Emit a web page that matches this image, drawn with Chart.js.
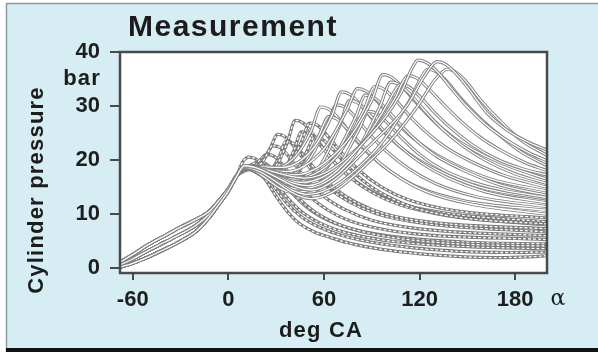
<!DOCTYPE html>
<html>
<head>
<meta charset="utf-8">
<script src="https://cdn.jsdelivr.net/npm/chart.js@4.4.0/dist/chart.umd.min.js"></script>
<style>
  html, body { margin: 0; padding: 0; background: #fff; }
  #wrap { width: 598px; height: 352px; }
</style>
</head>
<body>
<div id="wrap"><canvas id="chart" width="598" height="352"></canvas></div>
<script>
// shared compression stroke, three slightly different traces (deg CA / bar)
const compressionAngle = [-68, -60, -50, -40, -30, -20, -12, -6, 0, 5];
const compressionHigh = [1.0, 2.4, 4.3, 5.9, 7.5, 9.0, 10.4, 12.4, 14.6, 17.0];
const compressionMid  = [0.5, 1.6, 3.2, 4.7, 6.2, 7.9, 9.9, 12.0, 14.4, 16.9];
const compressionLow  = [0.1, 0.8, 2.0, 3.4, 4.9, 6.8, 9.3, 11.7, 14.2, 16.8];

// combustion part of each measured cycle, lowest peaks first
const cycleAngles = [
  [10, 15, 20, 25, 30, 37, 44, 54, 64, 75, 86, 106, 127, 148, 169, 189, 200],
  [10, 17, 22, 28, 36, 46, 58, 72, 90, 115, 145, 175, 200],
  [9, 13, 18, 25, 34, 45, 58, 75, 105, 150, 200],
  [10, 14, 19, 24, 31, 40, 51, 64, 81, 111, 150, 200],
  [10, 16, 22, 27, 34, 43, 54, 67, 84, 110, 145, 200],
  [10, 16, 20, 24, 29, 36, 45, 56, 69, 86, 116, 200],
  [10, 18, 23, 28, 33, 40, 49, 60, 73, 90, 120, 200],
  [10, 20, 26, 31, 36, 43, 52, 63, 76, 93, 123, 200],
  [10, 20, 28, 32, 36, 41, 48, 57, 68, 81, 98, 128, 200],
  [10, 22, 30, 37, 42, 47, 54, 63, 74, 87, 104, 134, 200],
  [10, 24, 34, 41, 46, 51, 58, 67, 78, 91, 108, 138, 200],
  [10, 26, 38, 46, 51, 56, 63, 72, 83, 96, 113, 142, 200],
  [10, 28, 40, 49, 54, 59, 66, 75, 86, 100, 118, 148, 200],
  [10, 28, 42, 52, 58, 63, 70, 79, 90, 103, 120, 148, 200],
  [10, 30, 46, 57, 63, 68, 75, 84, 95, 108, 125, 152, 200],
  [10, 32, 50, 62, 68, 73, 80, 89, 100, 113, 130, 155, 200],
  [10, 34, 53, 65, 71, 76, 83, 92, 103, 116, 133, 157, 200],
  [10, 34, 55, 70, 76, 81, 88, 97, 108, 121, 138, 162, 200],
  [10, 36, 60, 75, 81, 86, 93, 102, 113, 126, 143, 165, 200],
  [10, 38, 62, 80, 86, 91, 98, 107, 118, 131, 148, 170, 200],
  [10, 40, 64, 82, 88, 93, 100, 109, 120, 133, 150, 172, 200],
  [10, 40, 68, 85, 92, 97, 104, 113, 124, 137, 153, 174, 200],
  [10, 42, 72, 90, 97, 102, 109, 118, 129, 142, 158, 178, 200],
  [10, 44, 76, 95, 102, 107, 114, 123, 134, 147, 162, 180, 200],
  [10, 46, 80, 100, 104, 108, 113, 120, 129, 140, 153, 168, 184, 200],
  [10, 48, 84, 105, 109, 113, 118, 125, 134, 145, 158, 172, 186, 200],
  [10, 50, 90, 113, 121, 125, 130, 137, 146, 157, 170, 184, 200],
  [10, 52, 96, 118, 129, 134, 137, 142, 149, 158, 170, 184, 200],
  [10, 50, 88, 108, 115, 119, 124, 131, 140, 150, 162, 175, 188, 200],
  [10, 52, 92, 112, 122, 127, 131, 137, 145, 150, 162, 175, 188, 200]
];
const cyclePressures = [
  [17.9, 18.3, 17.4, 15.6, 13.2, 10.4, 8.3, 6.6, 5.6, 4.6, 3.9, 3.0, 2.4, 2.0, 1.85, 2.0, 2.2],
  [18.0, 18.2, 17.6, 15.4, 12.2, 9.4, 7.4, 5.9, 4.7, 3.7, 3.0, 2.8, 2.9],
  [19.6, 20.5, 20.0, 17.6, 14.0, 10.6, 8.2, 6.4, 4.8, 3.9, 3.5],
  [18.4, 19.0, 19.6, 19.2, 17.0, 13.8, 10.8, 8.6, 6.9, 5.5, 4.7, 4.4],
  [18.3, 18.6, 19.0, 18.5, 16.2, 13.2, 10.4, 8.3, 6.7, 5.3, 4.4, 4.0],
  [18.4, 18.8, 20.0, 21.0, 20.6, 18.4, 15.0, 12.0, 9.6, 7.8, 6.3, 5.2],
  [18.5, 18.9, 20.5, 22.6, 22.2, 19.8, 16.4, 13.2, 10.8, 8.8, 7.2, 5.9],
  [18.6, 19.2, 22.0, 24.7, 24.2, 21.8, 18.2, 14.8, 12.2, 10.0, 8.2, 6.6],
  [18.4, 17.8, 18.6, 20.6, 23.4, 23.0, 20.6, 17.4, 14.4, 12.0, 10.0, 8.4, 7.2],
  [18.7, 18.2, 19.0, 23.2, 27.3, 26.8, 24.4, 20.8, 17.4, 14.6, 12.2, 10.2, 8.5],
  [18.5, 17.0, 17.8, 21.6, 25.2, 24.8, 22.6, 19.4, 16.4, 13.8, 11.6, 9.6, 7.9],
  [18.6, 17.6, 19.2, 23.4, 26.8, 26.4, 24.2, 21.0, 17.8, 15.0, 12.6, 10.6, 9.2],
  [18.5, 16.2, 16.8, 21.4, 24.2, 23.8, 21.8, 18.8, 15.8, 13.2, 11.0, 9.2, 8.1],
  [18.8, 18.4, 20.6, 25.4, 29.8, 29.4, 27.4, 24.0, 20.6, 17.6, 14.8, 12.4, 10.6],
  [18.5, 16.8, 18.6, 24.6, 28.0, 27.6, 25.6, 22.6, 19.4, 16.6, 14.0, 11.8, 9.9],
  [18.7, 17.4, 19.8, 26.4, 30.2, 29.8, 27.8, 24.6, 21.4, 18.4, 15.6, 13.2, 11.3],
  [18.8, 18.6, 22.0, 28.2, 32.6, 32.2, 30.2, 27.0, 23.6, 20.6, 17.8, 15.0, 12.7],
  [18.5, 15.6, 17.8, 26.4, 31.0, 30.6, 28.6, 25.6, 22.4, 19.4, 16.6, 14.0, 12.0],
  [18.8, 17.8, 22.0, 29.6, 33.2, 32.8, 31.0, 28.0, 24.8, 21.8, 19.0, 16.4, 14.2],
  [18.6, 15.0, 18.6, 28.0, 32.0, 31.6, 29.8, 26.8, 23.6, 20.6, 18.0, 15.4, 13.4],
  [18.5, 14.0, 16.6, 25.6, 29.0, 28.6, 26.8, 24.0, 21.0, 18.4, 16.2, 14.4, 13.0],
  [18.7, 16.4, 20.6, 29.2, 33.6, 33.2, 31.4, 28.4, 25.2, 22.2, 19.6, 17.0, 14.9],
  [18.9, 17.2, 22.6, 31.0, 35.8, 35.4, 33.6, 30.6, 27.2, 24.0, 21.2, 18.6, 16.4],
  [18.6, 14.6, 19.6, 29.8, 34.4, 34.0, 32.2, 29.2, 25.8, 22.6, 19.8, 17.4, 15.6],
  [18.7, 15.8, 21.6, 30.4, 32.6, 34.0, 33.6, 31.8, 28.9, 25.8, 22.8, 20.2, 18.4, 17.2],
  [18.8, 16.6, 23.0, 31.6, 34.2, 35.6, 35.2, 33.4, 30.6, 27.4, 24.2, 21.6, 19.5, 18.0],
  [18.6, 13.6, 21.0, 30.6, 35.2, 36.8, 36.4, 34.6, 31.4, 28.0, 24.6, 21.4, 18.9],
  [18.6, 12.8, 21.8, 29.6, 34.6, 36.2, 36.8, 36.4, 34.6, 31.2, 27.4, 23.6, 20.8],
  [18.8, 15.2, 24.2, 32.2, 36.8, 38.5, 38.1, 36.4, 33.2, 29.8, 26.4, 23.6, 21.4, 19.8],
  [18.9, 14.4, 23.6, 30.0, 35.0, 37.2, 38.2, 37.6, 35.3, 33.5, 28.8, 25.5, 23.3, 21.8]
];

const xTicks = [-60, 0, 60, 120, 180];
const yTicks = [0, 10, 20, 30, 40];

const compressionTraces = [compressionMid, compressionHigh, compressionLow];
const tickFont = { family: '"Liberation Sans", Arial, sans-serif', size: 22, weight: 'bold' };

function cyclePoints(i) {
  const comp = compressionTraces[i % 3];
  const start = compressionAngle.map((a, k) => ({ x: a, y: comp[k] }));
  const rest = cycleAngles[i].map((a, k) => ({ x: a, y: cyclePressures[i][k] }));
  return start.concat(rest);
}

// every trace is drawn as a grey tube with a white core, later cycles on top;
// the low, early cycles get a broken core so they look beaded like the scan
const n = cycleAngles.length;
const datasets = [];
for (let i = 0; i < n; i++) {
  const pts = cyclePoints(i);
  const low = i < 13;
  datasets.push({ data: pts, borderColor: low ? '#7a7a7a' : '#808080', borderWidth: 3.2, order: 2 * (n - i) });
  datasets.push({
    data: pts,
    borderColor: '#ffffff',
    borderWidth: 1.3,
    borderDash: low ? [3, 2] : [],
    order: 2 * (n - i) - 1
  });
}

const frame = {
  id: 'frame',
  beforeDraw(chart) {
    const { ctx, chartArea: a, width, height } = chart;
    ctx.save();
    ctx.fillStyle = '#ffffff';
    ctx.fillRect(0, 0, width, height);
    ctx.fillStyle = '#d6edf4';
    ctx.fillRect(6, 3, width - 6, height - 3);
    ctx.strokeStyle = '#8b9ca3';
    ctx.lineWidth = 1.5;
    ctx.beginPath();
    ctx.moveTo(6.5, height);
    ctx.lineTo(6.5, 3.5);
    ctx.lineTo(width, 3.5);
    ctx.stroke();
    ctx.fillStyle = '#111111';
    ctx.fillRect(6, height - 4, width - 6, 4);
    ctx.fillStyle = '#ffffff';
    ctx.fillRect(a.left, a.top, a.right - a.left, a.bottom - a.top);
    ctx.restore();
  },
  afterDatasetsDraw(chart) {
    const { ctx, chartArea: a } = chart;
    ctx.save();
    ctx.strokeStyle = '#4a4a4a';
    ctx.lineWidth = 2.5;
    ctx.strokeRect(a.left, a.top, a.right - a.left, a.bottom - a.top);
    ctx.restore();
  }
};

const labels = {
  id: 'labels',
  afterDraw(chart) {
    const ctx = chart.ctx;
    ctx.save();
    ctx.fillStyle = '#1c1c1c';
    ctx.textBaseline = 'alphabetic';
    ctx.letterSpacing = '1.5px';
    ctx.font = 'bold 30px "Liberation Sans", Arial, sans-serif';
    ctx.textAlign = 'left';
    ctx.fillText('Measurement', 128, 36);

    ctx.font = 'bold 22px "Liberation Sans", Arial, sans-serif';
    ctx.letterSpacing = '1.2px';
    ctx.textAlign = 'right';
    ctx.fillText('bar', 101, 85);
    ctx.textAlign = 'center';
    ctx.fillText('deg CA', 321, 337);
    ctx.save();
    ctx.translate(43, 190);
    ctx.rotate(-Math.PI / 2);
    ctx.fillText('Cylinder pressure', 0, 0);
    ctx.restore();

    ctx.letterSpacing = '0px';
    ctx.font = '22px "DejaVu Serif", serif';
    ctx.fillText('α', 558, 305);
    ctx.restore();
  }
};

new Chart(document.getElementById('chart'), {
  type: 'line',
  data: { datasets: datasets },
  options: {
    responsive: false,
    animation: false,
    events: [],
    layout: { padding: { left: 0, right: 51, top: 52, bottom: 0 } },
    elements: {
      point: { radius: 0 },
      line: { cubicInterpolationMode: 'monotone', fill: false }
    },
    plugins: {
      legend: { display: false },
      title: { display: false },
      tooltip: { enabled: false }
    },
    scales: {
      x: {
        type: 'linear',
        min: -68,
        max: 200,
        afterBuildTicks: (s) => { s.ticks = xTicks.map(v => ({ value: v })); },
        afterFit: (s) => { s.height = 79; },
        border: { display: false },
        grid: { drawOnChartArea: false, drawTicks: true, tickLength: 7, color: '#4a4a4a', lineWidth: 2 },
        ticks: { font: tickFont, color: '#1e1e1e', padding: 7, maxRotation: 0 }
      },
      y: {
        type: 'linear',
        min: -1,
        max: 40,
        afterBuildTicks: (s) => { s.ticks = yTicks.map(v => ({ value: v })); },
        afterFit: (s) => { s.width = 120; },
        border: { display: false },
        grid: { drawOnChartArea: false, drawTicks: true, tickLength: 10, color: '#4a4a4a', lineWidth: 2 },
        ticks: { font: tickFont, color: '#1e1e1e', padding: 10 }
      }
    }
  },
  plugins: [frame, labels]
});
</script>
</body>
</html>
